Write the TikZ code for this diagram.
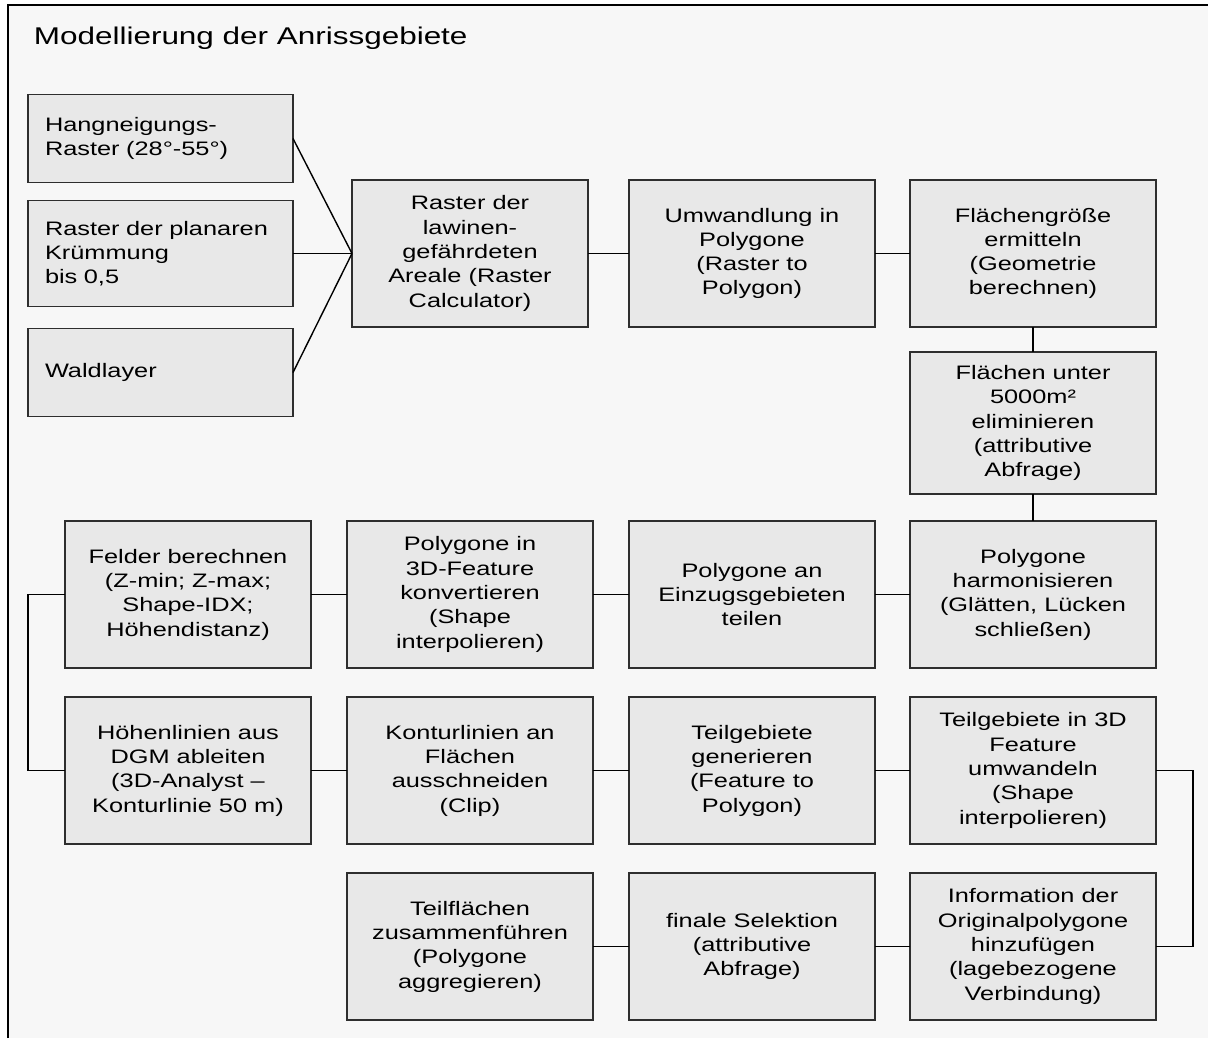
\documentclass[tikz,border=0pt]{standalone}
\usepackage{fontspec}
\setmainfont{Liberation Sans}[FakeStretch=1.3]
\usepackage{tikz}
\usetikzlibrary{positioning}
\definecolor{boxgray}{HTML}{E8E8E8}
\definecolor{pagegray}{HTML}{F7F7F7}
\definecolor{edgegray}{HTML}{2E2E2E}

\begin{document}
\begin{tikzpicture}[node distance = 18pt, line width = 0.7pt]
            % Set primary nodes
            \tikzset{
                procNode/.style={
                        rectangle,
                        draw = edgegray,
                        fill = boxgray,
                        align = center,
                        inner sep = 0pt,
                        outer sep = 0pt,
                        minimum width = 123pt,
                        minimum height = 73.5pt,
                        font = \fontsize{9.75pt}{12.15pt}\selectfont
                    }
            }
            \tikzset{
                inputNode/.style={
                        rectangle,
                        draw = edgegray,
                        fill = boxgray,
                        align = left,
                        text width = 115.5pt,
                        inner xsep = 8.5pt,
                        inner ysep = 0pt,
                        outer sep = 0pt,
                        minimum height = 44pt,
                        font = \fontsize{9.75pt}{12.15pt}\selectfont
                    }
            }
            % Frame and title
            \useasboundingbox (0,0) rectangle (604pt,-519pt);
            \fill[pagegray] (4pt,-2.5pt) rectangle (604pt,-519pt);
            \draw[line width = 1pt] (4pt,-519pt) -- (4pt,-2.5pt) -- (604pt,-2.5pt);
            \node[anchor = base west, inner sep = 0pt, font = \fontsize{12.1pt}{15pt}\selectfont](title) at (16.6pt,-22.5pt){Modellierung der Anrissgebiete};
            % Placing nodes
            \node[inputNode](hang) at (80.25pt,-69.25pt){Hangneigungs-\\Raster (28°-55°)};
            \node[inputNode, below = 9pt of hang, minimum height = 53pt](planar){Raster der planaren\\Krümmung\\bis 0,5};
            \node[inputNode, below = 11pt of planar](wald){Waldlayer};
            \node[procNode, right = 29.5pt of planar, minimum width = 118pt](raster){Raster der\\lawinen-\\gefährdeten\\Areale (Raster\\Calculator)};
            \node[procNode, right = 20.5pt of raster](umw){Umwandlung in\\Polygone\\(Raster to\\Polygon)};
            \node[procNode, right = 17.5pt of umw](flgr){Flächengröße\\ermitteln\\(Geometrie\\berechnen)};
            \node[procNode, below = 12.5pt of flgr, minimum height = 71pt](flunter){Flächen unter\\5000m²\\eliminieren\\(attributive\\Abfrage)};
            \node[procNode, below = 13.5pt of flunter](polyharm){Polygone\\harmonisieren\\(Glätten, Lücken\\schließen)};
            \node[procNode, left = 17.5pt of polyharm](polyein){Polygone an\\Einzugsgebieten\\teilen};
            \node[procNode, left = of polyein](poly3d){Polygone in\\3D-Feature\\konvertieren\\(Shape\\interpolieren)};
            \node[procNode, left = of poly3d](felder){Felder berechnen\\(Z-min; Z-max;\\Shape-IDX;\\Höhendistanz)};
            \node[procNode, below = 14.5pt of felder](hoehen){Höhenlinien aus\\DGM ableiten\\(3D-Analyst –\\Konturlinie 50 m)};
            \node[procNode, below = 14.5pt of poly3d](kontur){Konturlinien an\\Flächen\\ausschneiden\\(Clip)};
            \node[procNode, below = 14.5pt of polyein](teilgen){Teilgebiete\\generieren\\(Feature to\\Polygon)};
            \node[procNode, below = 14.5pt of polyharm](teil3d){Teilgebiete in 3D\\Feature\\umwandeln\\(Shape\\interpolieren)};
            \node[procNode, below = 14.5pt of teil3d](info){Information der\\Originalpolygone\\hinzufügen\\(lagebezogene\\Verbindung)};
            \node[procNode, below = 14.5pt of teilgen](finale){finale Selektion\\(attributive\\Abfrage)};
            \node[procNode, below = 14.5pt of kontur](teilfl){Teilflächen\\zusammenführen\\(Polygone\\aggregieren)};
            % Placing lines
            \draw(hang.east) edge (raster.west);
            \draw(planar.east) edge (raster.west);
            \draw(wald.east) edge (raster.west);
            \draw(raster) edge (umw);
            \draw(umw) edge (flgr);
            \draw(flgr) edge (flunter);
            \draw(flunter) edge (polyharm);
            \draw(polyharm) edge (polyein);
            \draw(polyein) edge (poly3d);
            \draw(poly3d) edge (felder);
            \draw(felder.west) -- ++(-18.5pt,0) |- (hoehen.west);
            \draw(hoehen) edge (kontur);
            \draw(kontur) edge (teilgen);
            \draw(teilgen) edge (teil3d);
            \draw(teil3d.east) -- ++(18.5pt,0) |- (info.east);
            \draw(info) edge (finale);
            \draw(finale) edge (teilfl);
        \end{tikzpicture}
\end{document}
